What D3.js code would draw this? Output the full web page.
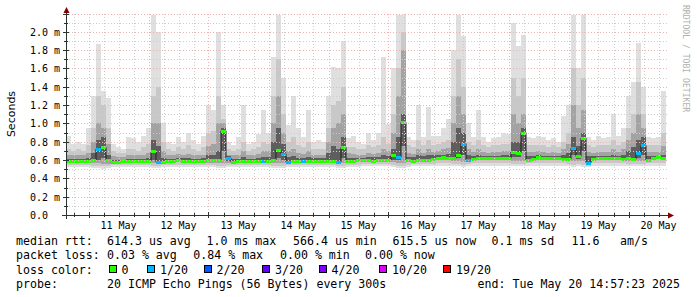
<!DOCTYPE html>
<html><head><meta charset="utf-8">
<script src="https://cdn.jsdelivr.net/npm/d3@7"></script>
<style>
html,body{margin:0;padding:0;background:#fff;}
svg{display:block;}
text{font-family:"DejaVu Sans Mono",monospace;fill:#000;}
</style></head><body>
<svg id="chart" width="697" height="297"></svg>
<script>
// ---------------- DATA ----------------
const startTime = new Date(2025, 4, 10, 15, 0, 0);
const endTime = new Date(2025, 4, 20, 15, 0, 0);
const stepHours = 2;

const medianRtt = [
0.585,0.585,0.59,0.59,0.59,0.60,0.72,0.74,0.60,0.575,
0.58,0.585,0.585,0.59,0.59,0.585,0.59,0.70,0.58,0.575,
0.585,0.59,0.60,0.595,0.59,0.59,0.585,0.59,0.60,0.60,
0.60,0.92,0.62,0.58,0.585,0.59,0.595,0.59,0.595,0.59,
0.59,0.60,0.71,0.67,0.58,0.585,0.59,0.59,0.595,0.595,
0.59,0.595,0.59,0.585,0.58,0.74,0.59,0.595,0.60,0.60,
0.60,0.595,0.60,0.60,0.60,0.65,0.63,1.01,0.60,0.595,
0.60,0.60,0.605,0.61,0.625,0.63,0.625,0.62,0.66,0.78,
0.60,0.615,0.62,0.62,0.62,0.62,0.62,0.625,0.62,0.69,
0.68,0.90,0.60,0.615,0.63,0.625,0.62,0.62,0.62,0.615,
0.61,0.73,0.64,0.84,0.57,0.615,0.62,0.625,0.625,0.62,
0.62,0.615,0.62,0.61,0.68,0.76,0.60,0.625,0.63,0.625];

const lossCount = [
0,0,0,0,0,0,1,0,0,0,
0,0,0,0,0,0,0,0,1,0,
0,0,0,0,0,0,0,0,0,0,
0,0,1,0,0,0,0,0,0,1,
0,0,0,1,1,0,0,1,0,0,
0,0,0,0,1,0,0,0,0,0,
0,0,0,0,0,0,1,0,0,0,
0,0,0,0,0,0,0,0,0,1,
1,0,0,0,0,0,0,0,0,0,
0,0,0,0,0,0,0,0,0,0,
0,1,0,0,1,0,0,0,0,0,
0,0,0,0,1,1,0,0,0,0];

const pingMax = [
0.86,0.78,0.80,0.77,0.95,1.30,1.87,1.35,1.28,0.78,
0.74,0.72,0.85,0.84,0.80,0.86,0.95,2.18,2.00,1.00,
0.80,0.78,0.85,0.80,0.90,0.82,0.78,0.86,1.20,1.15,
2.00,1.20,0.80,0.76,0.85,1.20,0.78,0.80,0.88,1.15,
0.90,1.73,2.18,1.50,0.98,1.30,0.95,0.85,1.15,0.80,
0.82,0.80,1.30,1.62,1.60,1.90,0.84,0.86,0.80,0.78,
0.90,0.82,0.90,1.72,0.99,1.60,2.18,2.18,0.85,0.82,
1.20,0.85,1.18,0.86,0.86,0.95,1.05,1.80,2.18,1.95,
1.00,0.85,1.15,0.85,0.80,0.84,0.85,0.90,0.88,2.10,
1.85,1.97,0.85,0.84,0.86,0.85,0.82,0.84,0.80,1.08,
1.20,2.18,1.60,2.18,0.85,0.82,0.86,0.84,0.85,1.10,
0.86,0.95,1.30,1.45,1.88,1.40,0.85,0.84,0.85,1.35];

const ping90 = [
0.72,0.70,0.72,0.70,0.76,0.95,1.30,1.20,0.95,0.70,
0.68,0.68,0.72,0.72,0.70,0.74,0.78,1.30,1.40,0.80,
0.72,0.70,0.74,0.72,0.76,0.72,0.70,0.74,0.90,0.92,
1.30,1.05,0.72,0.70,0.72,0.80,0.70,0.72,0.74,0.80,
0.78,1.30,1.70,1.10,0.80,0.85,0.76,0.74,0.80,0.72,
0.72,0.72,0.95,1.20,1.25,1.40,0.74,0.74,0.72,0.72,
0.76,0.74,0.76,0.85,0.78,1.10,1.60,2.00,0.76,0.74,
0.82,0.76,0.82,0.76,0.78,0.80,0.82,1.30,1.70,1.40,
0.80,0.76,0.82,0.76,0.74,0.76,0.76,0.78,0.78,1.50,
1.30,1.50,0.76,0.76,0.76,0.76,0.74,0.76,0.74,0.80,
0.90,1.60,1.20,1.50,0.76,0.74,0.76,0.76,0.76,0.82,
0.76,0.80,0.95,1.10,1.45,1.10,0.76,0.76,0.76,0.90];

const ping75 = [
0.65,0.65,0.66,0.65,0.68,0.80,1.00,0.95,0.78,0.64,
0.63,0.63,0.65,0.65,0.65,0.66,0.68,1.00,1.00,0.70,
0.66,0.65,0.67,0.66,0.67,0.66,0.65,0.66,0.75,0.78,
1.00,1.00,0.66,0.65,0.66,0.70,0.65,0.66,0.67,0.70,
0.70,1.00,1.30,0.90,0.70,0.72,0.68,0.67,0.70,0.66,
0.66,0.66,0.80,0.95,1.00,1.10,0.68,0.67,0.66,0.66,
0.68,0.67,0.68,0.72,0.70,0.90,1.30,1.80,0.68,0.67,
0.72,0.68,0.72,0.69,0.70,0.72,0.73,1.00,1.30,1.10,
0.72,0.69,0.72,0.69,0.68,0.69,0.69,0.70,0.70,1.10,
1.00,1.10,0.69,0.69,0.70,0.69,0.68,0.69,0.68,0.72,
0.78,1.20,0.95,1.15,0.69,0.68,0.69,0.69,0.69,0.72,
0.69,0.72,0.82,0.90,1.10,0.95,0.69,0.69,0.69,0.75];

const ping60 = [
0.61,0.61,0.61,0.61,0.62,0.68,0.82,0.85,0.66,0.60,
0.60,0.60,0.61,0.61,0.61,0.61,0.62,0.82,0.75,0.62,
0.61,0.61,0.62,0.62,0.62,0.61,0.61,0.62,0.65,0.66,
0.70,0.95,0.64,0.61,0.61,0.63,0.61,0.61,0.62,0.63,
0.63,0.80,0.95,0.78,0.63,0.64,0.62,0.62,0.63,0.62,
0.62,0.62,0.68,0.75,0.72,0.85,0.62,0.62,0.62,0.62,
0.63,0.63,0.63,0.65,0.64,0.72,0.85,1.10,0.63,0.63,
0.65,0.64,0.65,0.65,0.66,0.66,0.67,0.80,0.95,0.90,
0.65,0.64,0.65,0.64,0.64,0.64,0.64,0.65,0.65,0.80,
0.80,0.95,0.64,0.64,0.65,0.64,0.64,0.64,0.64,0.66,
0.68,0.85,0.75,0.90,0.64,0.64,0.64,0.64,0.64,0.66,
0.64,0.66,0.70,0.74,0.82,0.85,0.64,0.64,0.64,0.66];

const ping40 = [
0.575,0.575,0.58,0.58,0.58,0.585,0.60,0.62,0.585,0.565,
0.57,0.575,0.575,0.58,0.58,0.575,0.58,0.60,0.57,0.565,
0.575,0.58,0.59,0.585,0.58,0.58,0.575,0.58,0.585,0.585,
0.585,0.70,0.59,0.57,0.575,0.58,0.585,0.58,0.585,0.58,
0.58,0.585,0.62,0.60,0.57,0.575,0.58,0.58,0.585,0.585,
0.58,0.585,0.58,0.575,0.57,0.62,0.58,0.585,0.59,0.59,
0.59,0.585,0.59,0.59,0.59,0.60,0.60,0.75,0.59,0.585,
0.59,0.59,0.595,0.60,0.615,0.62,0.615,0.605,0.62,0.66,
0.59,0.605,0.61,0.61,0.61,0.61,0.61,0.615,0.61,0.63,
0.63,0.70,0.59,0.605,0.62,0.615,0.61,0.61,0.61,0.605,
0.60,0.65,0.61,0.70,0.56,0.605,0.61,0.615,0.615,0.61,
0.61,0.605,0.61,0.60,0.62,0.66,0.59,0.615,0.62,0.615];

const ping25 = [
0.565,0.565,0.57,0.57,0.57,0.565,0.57,0.56,0.56,0.56,
0.562,0.565,0.565,0.57,0.57,0.565,0.57,0.565,0.56,0.56,
0.565,0.57,0.575,0.572,0.57,0.57,0.565,0.57,0.57,0.57,
0.565,0.57,0.57,0.565,0.565,0.57,0.575,0.57,0.575,0.57,
0.57,0.57,0.57,0.565,0.565,0.565,0.57,0.57,0.575,0.575,
0.57,0.575,0.57,0.565,0.56,0.565,0.57,0.575,0.58,0.58,
0.58,0.575,0.58,0.58,0.58,0.575,0.57,0.57,0.58,0.575,
0.58,0.58,0.585,0.59,0.60,0.605,0.60,0.595,0.59,0.58,
0.58,0.595,0.60,0.60,0.60,0.60,0.60,0.605,0.60,0.595,
0.59,0.59,0.585,0.595,0.605,0.60,0.60,0.60,0.60,0.595,
0.59,0.585,0.59,0.585,0.55,0.595,0.60,0.605,0.605,0.60,
0.60,0.595,0.595,0.59,0.59,0.59,0.585,0.605,0.61,0.605];

const ping10 = [
0.545,0.545,0.545,0.545,0.545,0.54,0.54,0.535,0.54,0.545,
0.545,0.545,0.545,0.545,0.545,0.545,0.545,0.54,0.54,0.545,
0.545,0.548,0.55,0.548,0.545,0.545,0.545,0.548,0.545,0.545,
0.54,0.54,0.545,0.545,0.545,0.548,0.548,0.545,0.548,0.548,
0.545,0.54,0.54,0.54,0.545,0.545,0.548,0.548,0.548,0.548,
0.548,0.548,0.545,0.545,0.54,0.54,0.548,0.55,0.55,0.555,
0.555,0.555,0.555,0.555,0.555,0.55,0.54,0.54,0.55,0.555,
0.555,0.555,0.558,0.56,0.565,0.565,0.565,0.56,0.555,0.55,
0.56,0.565,0.565,0.565,0.565,0.565,0.565,0.565,0.565,0.56,
0.56,0.56,0.565,0.565,0.565,0.565,0.565,0.565,0.565,0.565,
0.56,0.55,0.56,0.55,0.54,0.565,0.565,0.565,0.565,0.565,
0.565,0.565,0.56,0.56,0.56,0.56,0.565,0.565,0.57,0.565];

const pingMin = [
0.52,0.52,0.52,0.52,0.52,0.51,0.51,0.50,0.51,0.52,
0.52,0.52,0.52,0.52,0.52,0.52,0.52,0.51,0.51,0.52,
0.52,0.52,0.52,0.52,0.52,0.52,0.52,0.52,0.52,0.52,
0.51,0.51,0.52,0.52,0.52,0.52,0.52,0.52,0.52,0.52,
0.52,0.51,0.51,0.51,0.52,0.52,0.52,0.52,0.52,0.52,
0.52,0.52,0.52,0.52,0.51,0.51,0.52,0.52,0.52,0.53,
0.53,0.53,0.53,0.53,0.53,0.52,0.51,0.51,0.52,0.53,
0.53,0.53,0.53,0.53,0.54,0.54,0.54,0.53,0.53,0.52,
0.53,0.54,0.54,0.54,0.54,0.54,0.54,0.54,0.54,0.53,
0.53,0.53,0.54,0.54,0.54,0.54,0.54,0.54,0.54,0.54,
0.53,0.52,0.53,0.52,0.52,0.54,0.54,0.54,0.54,0.54,
0.54,0.54,0.53,0.53,0.53,0.53,0.54,0.54,0.54,0.54];

const yTickValues = [0, 0.2, 0.4, 0.6, 0.8, 1.0, 1.2, 1.4, 1.6, 1.8, 2.0];
const yTickLabels = ["0.0","0.2 m","0.4 m","0.6 m","0.8 m","1.0 m","1.2 m","1.4 m","1.6 m","1.8 m","2.0 m"];
const dayLabels = ["11 May","12 May","13 May","14 May","15 May","16 May","17 May","18 May","19 May","20 May"];

const lossThresholds = [0, 1, 2, 3, 4, 10, 19];
const lossLabels = ["0","1/20","2/20","3/20","4/20","10/20","19/20"];
const lossColors = ["#26ff00","#00b8ff","#0059ff","#5e00ff","#7e00ff","#dd00ff","#ff0000"];

const legendRtt = ["median rtt:","614.3 us avg","1.0 ms max","566.4 us min","615.5 us now","0.1 ms sd","11.6","am/s"];
const legendLoss = ["packet loss:","0.03 % avg","0.84 % max","0.00 % min","0.00 % now"];
const legendColorTitle = "loss color:";
const legendProbe = ["probe:","20 ICMP Echo Pings (56 Bytes) every 300s"];
const legendEnd = "end: Tue May 20 14:57:23 2025";
const yTitle = "Seconds";
const watermark = "RRDTOOL / TOBI OETIKER";

// ---------------- LAYOUT ----------------
const svg = d3.select("#chart");
const W = 697, H = 297;
const plotL = 66, plotR = 666, plotB = 215, plotT = 13.5;

svg.append("rect").attr("width", W).attr("height", H).attr("fill", "#ffffff");

const x = d3.scaleTime().domain([startTime, endTime]).range([plotL, plotR]);
const y = d3.scaleLinear().domain([0, 2.2]).range([plotB, plotT]);

const cols = medianRtt.map((m, i) => {
  const t0 = d3.timeHour.offset(startTime, i * stepHours);
  const t1 = d3.timeHour.offset(startTime, (i + 1) * stepHours);
  return {i, t0, t1, med: m, loss: lossCount[i]};
});

// smoke bands, outer -> inner
const bands = [
  {lo: pingMin, hi: pingMax, color: "#dfdfdf"},
  {lo: ping10, hi: ping90, color: "#c8c8c8"},
  {lo: ping25, hi: ping75, color: "#a3a3a3"},
  {lo: ping40, hi: ping60, color: "#5e5e5e"}
];
const gSmoke = svg.append("g").attr("shape-rendering", "crispEdges");
bands.forEach(b => {
  gSmoke.append("g").selectAll("rect").data(cols).join("rect")
    .attr("x", d => x(d.t0))
    .attr("width", d => x(d.t1) - x(d.t0))
    .attr("y", d => y(b.hi[d.i]))
    .attr("height", d => y(b.lo[d.i]) - y(b.hi[d.i]))
    .attr("fill", b.color);
});

// median dark step line
const linePts = cols.map(d => [x(d.t0), y(d.med)]);
linePts.push([x(endTime), y(medianRtt[medianRtt.length - 1])]);
svg.append("path")
  .attr("d", d3.line().curve(d3.curveStepAfter)(linePts))
  .attr("fill", "none").attr("stroke", "#202020").attr("stroke-width", 1);

function lossColor(l) {
  let c = lossColors[0];
  lossThresholds.forEach((t, k) => { if (l >= t) c = lossColors[k]; });
  return c;
}
svg.append("g").attr("shape-rendering", "crispEdges").selectAll("rect").data(cols).join("rect")
  .attr("x", d => x(d.t0))
  .attr("width", d => x(d.t1) - x(d.t0))
  .attr("y", d => Math.round(y(d.med)) - 1.5)
  .attr("height", 3)
  .attr("fill", d => lossColor(d.loss));

// grid (on top)
const gGrid = svg.append("g").attr("shape-rendering", "crispEdges");
const yMinor = y.ticks(22);
const yMajor = y.ticks(11);
const majorGrid = "#eeb2b2", minorGrid = "#cdcdcd";
yMinor.forEach(v => {
  const isMajor = yMajor.some(m => Math.abs(m - v) < 1e-9);
  if (v === 0) return;
  const yy = Math.round(y(v)) + 0.5;
  gGrid.append("line").attr("x1", plotL).attr("x2", plotR + 1).attr("y1", yy).attr("y2", yy)
    .attr("stroke", isMajor ? majorGrid : minorGrid).attr("stroke-width", 1)
    .attr("stroke-dasharray", "1,2");
});
const minorTimes = d3.timeHour.every(6).range(startTime, endTime);
const majorTimes = d3.timeDay.range(startTime, endTime);
minorTimes.forEach(t => {
  const isMajor = t.getHours() === 0;
  const xx = Math.round(x(t)) + 0.5;
  gGrid.append("line").attr("x1", xx).attr("x2", xx).attr("y1", plotT).attr("y2", plotB)
    .attr("stroke", isMajor ? majorGrid : minorGrid).attr("stroke-width", 1)
    .attr("stroke-dasharray", "1,2");
});

// axes
const axisColor = "#2c3430";
const gAx = svg.append("g").attr("shape-rendering", "crispEdges");
gAx.append("line").attr("x1", 62).attr("x2", 669).attr("y1", plotB + 0.5).attr("y2", plotB + 0.5)
  .attr("stroke", axisColor);
gAx.append("line").attr("x1", plotL + 0.5).attr("x2", plotL + 0.5).attr("y1", 219).attr("y2", 10)
  .attr("stroke", axisColor);
yMinor.forEach(v => {
  const isMajor = yMajor.some(m => Math.abs(m - v) < 1e-9);
  const yy = Math.round(y(v)) + 0.5;
  gAx.append("line").attr("x1", plotL - (isMajor ? 3 : 2)).attr("x2", plotL + (isMajor ? 3 : 2))
    .attr("y1", yy).attr("y2", yy).attr("stroke", axisColor);
});
minorTimes.forEach(t => {
  const isMajor = t.getHours() === 0;
  const xx = Math.round(x(t)) + 0.5;
  gAx.append("line").attr("x1", xx).attr("x2", xx).attr("y1", plotB - (isMajor ? 3 : 2)).attr("y2", plotB + (isMajor ? 3 : 2))
    .attr("stroke", axisColor);
});
// arrows
svg.append("path").attr("d", "M63.5,13 L69.5,13 L66.5,7 Z").attr("fill", "#7f0000");
svg.append("path").attr("d", "M668,212.5 L668,218.5 L674,215.5 Z").attr("fill", "#7f0000");

// y labels
svg.append("g").selectAll("text").data(yTickValues).join("text")
  .attr("x", 30).attr("y", v => Math.round(y(v)) + 4)
  .attr("font-size", "10px")
  .text((v, k) => yTickLabels[k]);

// x labels at noon
svg.append("g").selectAll("text").data(majorTimes.slice(0, dayLabels.length)).join("text")
  .attr("x", t => x(d3.timeHour.offset(t, 12)))
  .attr("y", 229)
  .attr("text-anchor", "middle")
  .attr("font-size", "10px")
  .text((t, k) => dayLabels[k]);

// y title
svg.append("text").attr("transform", "translate(14.5,114) rotate(-90)")
  .attr("text-anchor", "middle").attr("font-size", "11px")
  .style("font-family", "'DejaVu Sans', sans-serif")
  .text(yTitle);

// watermark
svg.append("text").attr("transform", "translate(683,5) rotate(90)")
  .attr("font-size", "8.1px").style("fill", "#b0b0b0")
  .text(watermark);

// legend
const lf = "11.6px";
const rttX = [16, 107, 206.5, 293, 392.5, 491.5, 571.5, 620];
const lossX = [16, 107, 193.3, 280, 365];
const gLeg = svg.append("g").attr("font-size", lf).style("white-space", "pre");
legendRtt.forEach((s, k) => gLeg.append("text").attr("x", rttX[k]).attr("y", 245).text(s));
legendLoss.forEach((s, k) => gLeg.append("text").attr("x", lossX[k]).attr("y", 259.3).text(s));
gLeg.append("text").attr("x", 16).attr("y", 273.5).text(legendColorTitle);
const boxX = [108.5, 147, 203.5, 262, 318.5, 379, 443];
lossLabels.forEach((s, k) => {
  gLeg.append("rect").attr("x", boxX[k] + 0.5).attr("y", 265.5).attr("width", 7).attr("height", 7)
    .attr("fill", lossColors[k]).attr("stroke", "#000").attr("stroke-width", 1)
    .attr("shape-rendering", "crispEdges");
  gLeg.append("text").attr("x", boxX[k] + 13).attr("y", 273.5).text(s);
});
gLeg.append("text").attr("x", 16).attr("y", 287.7).text(legendProbe[0]);
gLeg.append("text").attr("x", 107).attr("y", 287.7).text(legendProbe[1]);
gLeg.append("text").attr("x", 680).attr("y", 287.7).attr("text-anchor", "end").text(legendEnd);
</script>
</body></html>
